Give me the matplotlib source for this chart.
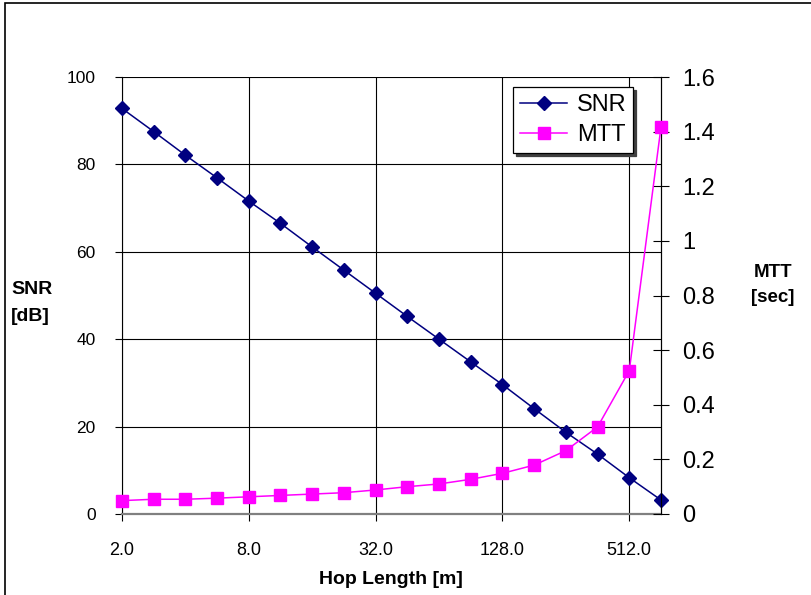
import numpy as np
import matplotlib
matplotlib.use("Agg")
import matplotlib.pyplot as plt
from matplotlib.patches import Rectangle

plt.rcParams['font.family'] = ['Liberation Sans', 'DejaVu Sans']

# data
hop = [2.0, 2.83, 4.0, 5.66, 8.0, 11.31, 16.0, 22.63, 32.0, 45.25,
       64.0, 90.51, 128.0, 181.02, 256.0, 362.04, 512.0, 724.08]
snr = [92.8, 87.5, 82.1, 76.9, 71.6, 66.5, 61.1, 55.8, 50.5, 45.2,
       40.0, 34.8, 29.6, 24.1, 18.7, 13.7, 8.3, 3.2]
mtt = [0.049, 0.054, 0.054, 0.058, 0.063, 0.068, 0.073, 0.078, 0.088, 0.100,
       0.110, 0.127, 0.149, 0.179, 0.232, 0.319, 0.525, 1.417]

xticks = [2, 8, 32, 128, 512]
xtick_labels = ["2.0", "8.0", "32.0", "128.0", "512.0"]
snr_ticks = [0, 20, 40, 60, 80, 100]
mtt_ticks = [0, 0.2, 0.4, 0.6, 0.8, 1.0, 1.2, 1.4, 1.6]
mtt_tick_labels = ["0", "0.2", "0.4", "0.6", "0.8", "1", "1.2", "1.4", "1.6"]

W, H = 812, 595
fig = plt.figure(figsize=(W / 100, H / 100), dpi=100)
ax = fig.add_axes([122 / W, 1 - 514 / H, (661 - 122) / W, (514 - 77) / H])
ax2 = ax.twinx()

# outer chart border (only top and left edges fall inside the picture)
fig.patches.append(Rectangle((5 / W, -0.1), 1.2, 1.1 - 3 / H, fill=False,
                             ec="black", lw=1.2, transform=fig.transFigure))

l1, = ax.plot(hop, snr, color="#000080", lw=1.1, marker="D", ms=7.5,
              mec="#000080", mfc="#000080", clip_on=False, zorder=5, label="SNR")
l2, = ax2.plot(hop, mtt, color="#FF00FF", lw=1.1, marker="s", ms=8.5,
               mec="#FF00FF", mfc="#FF00FF", clip_on=False, zorder=5, label="MTT")

ax.set_xscale("log", base=2)
ax.set_xlim(hop[0], hop[-1])
ax.set_ylim(0, 100)
ax2.set_ylim(0, 1.6)

ax.set_xticks(xticks)
ax.set_xticklabels(xtick_labels)
ax.xaxis.set_minor_locator(matplotlib.ticker.NullLocator())
ax.set_yticks(snr_ticks)
ax2.set_yticks(mtt_ticks)
ax2.set_yticklabels(mtt_tick_labels)

ax.grid(True, color="black", lw=0.8)
ax.set_axisbelow(True)

for s in ["top"]:
    ax.spines[s].set_visible(False)
    ax2.spines[s].set_visible(False)
ax2.spines["left"].set_visible(False)
ax2.spines["bottom"].set_visible(False)
ax.spines["bottom"].set_color("#808080")
ax.spines["bottom"].set_linewidth(1.6)
ax.spines["left"].set_linewidth(0.8)
ax2.spines["right"].set_linewidth(0.8)

ax.tick_params(axis="x", direction="out", length=5, width=0.8, labelsize=13, pad=15)
ax.tick_params(axis="y", direction="out", length=5, width=0.8, labelsize=12.5, pad=14)
ax2.tick_params(axis="y", direction="inout", length=12, width=0.8, labelsize=17, pad=9)

fig.text(391 / W, 1 - 579 / H, "Hop Length [m]", ha="center", va="center",
         fontsize=14, fontweight="bold")
fig.text(11 / W, 1 - 303 / H, "SNR\n[dB]", ha="left", va="center",
         fontsize=14, fontweight="bold", linespacing=1.75)
fig.text(773 / W, 1 - 285 / H, "MTT\n[sec]", ha="center", va="center",
         fontsize=13.5, fontweight="bold", linespacing=1.6)

leg = ax2.legend(handles=[l1, l2], loc="upper left",
                 bbox_to_anchor=(513 / W, 1 - 87 / H), bbox_transform=fig.transFigure,
                 fontsize=17, frameon=True, fancybox=False, framealpha=1,
                 edgecolor="black", handlelength=2.0, handletextpad=0.4,
                 labelspacing=0.35, borderpad=0.3, borderaxespad=0,
                 shadow={"color": "0.25", "alpha": 1})
leg.get_frame().set_linewidth(0.9)

fig.savefig("out.png", dpi=100)
